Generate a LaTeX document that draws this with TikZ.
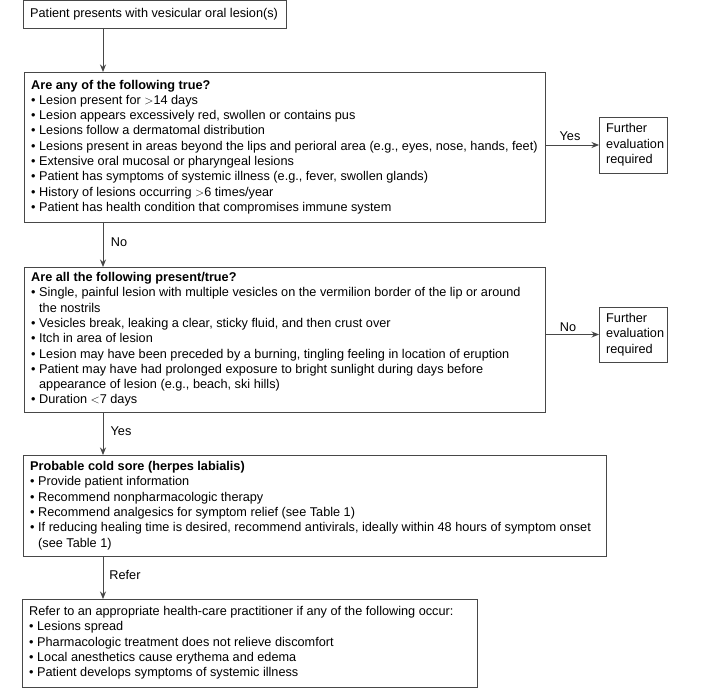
\documentclass[tikz,border=0pt]{standalone}
\usepackage{fontspec}
\setmainfont{Liberation Sans}
\usetikzlibrary{arrows.meta}
\newcommand{\bul}{\textbullet\ }
\newcommand{\ind}{\phantom{\textbullet}\ }
\begin{document}
\begin{tikzpicture}[x=1pt,y=1pt,
  box/.style={draw=black!72, line width=0.9pt, inner sep=0pt, outer sep=0pt, anchor=north west},
  txt/.style={align=left, inner sep=0pt, anchor=west, text=black, font=\fontsize{12.7}{15.3}\selectfont},
  lbl/.style={inner sep=0pt, text=black, font=\fontsize{12.7}{15.3}\selectfont},
  arr/.style={draw=black!72, line width=0.9pt, -{Stealth[length=7.5pt,width=6pt]}}]
\useasboundingbox (0,0) rectangle (721,-695);
\coordinate (ax) at (103,0);
% boxes
\node[box, minimum width=263pt, minimum height=27.5pt] (b1) at (23,-0.5) {};
\node[txt] (t1) at ([xshift=7pt]b1.west) {Patient presents with vesicular oral lesion(s)};

\node[box, minimum width=521pt, minimum height=150pt] (b2) at (24,-72) {};
\node[txt] (t2) at ([xshift=7pt]b2.west) {\textbf{Are any of the following true?}\\
\bul Lesion present for $>$14 days\\
\bul Lesion appears excessively red, swollen or contains pus\\
\bul Lesions follow a dermatomal distribution\\
\bul Lesions present in areas beyond the lips and perioral area (e.g., eyes, nose, hands, feet)\\
\bul Extensive oral mucosal or pharyngeal lesions\\
\bul Patient has symptoms of systemic illness (e.g., fever, swollen glands)\\
\bul History of lesions occurring $>$6 times/year\\
\bul Patient has health condition that compromises immune system};

\node[box, minimum width=68pt, minimum height=56pt] (f1) at (599,-117) {};
\node[txt] (tf1) at ([xshift=7pt]f1.west) {Further\\evaluation\\required};

\node[box, minimum width=521pt, minimum height=145pt] (b3) at (24,-267) {};
\node[txt] (t3) at ([xshift=7pt]b3.west) {\textbf{Are all the following present/true?}\\
\bul Single, painful lesion with multiple vesicles on the vermilion border of the lip or around\\
\ind the nostrils\\
\bul Vesicles break, leaking a clear, sticky fluid, and then crust over\\
\bul Itch in area of lesion\\
\bul Lesion may have been preceded by a burning, tingling feeling in location of eruption\\
\bul Patient may have had prolonged exposure to bright sunlight during days before\\
\ind appearance of lesion (e.g., beach, ski hills)\\
\bul Duration $<$7 days};

\node[box, minimum width=68pt, minimum height=55pt] (f2) at (599,-307) {};
\node[txt] (tf2) at ([xshift=7pt]f2.west) {Further\\evaluation\\required};

\node[box, minimum width=583pt, minimum height=101pt] (b4) at (23,-455) {};
\node[txt] (t4) at ([xshift=7pt]b4.west) {\textbf{Probable cold sore (herpes labialis)}\\
\bul Provide patient information\\
\bul Recommend nonpharmacologic therapy\\
\bul Recommend analgesics for symptom relief (see Table 1)\\
\bul If reducing healing time is desired, recommend antivirals, ideally within 48 hours of symptom onset\\
\ind(see Table 1)};

\node[box, minimum width=455pt, minimum height=88pt] (b5) at (22,-599) {};
\node[txt] (t5) at ([xshift=7pt]b5.west) {Refer to an appropriate health-care practitioner if any of the following occur:\\
\bul Lesions spread\\
\bul Pharmacologic treatment does not relieve discomfort\\
\bul Local anesthetics cause erythema and edema\\
\bul Patient develops symptoms of systemic illness};

% connectors
\draw[arr] (b1.south -| ax) -- (b2.north -| ax);
\draw[arr] (b2.south -| ax) -- (b3.north -| ax);
\draw[arr] (b3.south -| ax) -- (b4.north -| ax);
\draw[arr] (b4.south -| ax) -- (b5.north -| ax);
\draw[arr] (f1.west -| b2.east) -- (f1.west);
\draw[arr] (f2.west -| b3.east) -- (f2.west);

% labels
\node[lbl] (lyes1) at (570,-136) {Yes};
\node[lbl] (lno2) at (568,-327) {No};
\node[lbl] (lno1) at (119,-242) {No};
\node[lbl] (lyes2) at (121,-431) {Yes};
\node[lbl] (lref) at (125,-575) {Refer};
\end{tikzpicture}
\end{document}
